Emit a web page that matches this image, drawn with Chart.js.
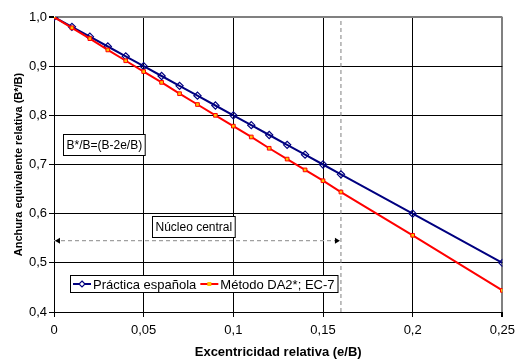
<!DOCTYPE html>
<html>
<head>
<meta charset="utf-8">
<script src="https://cdn.jsdelivr.net/npm/chart.js@4/dist/chart.umd.min.js"></script>
<style>
  html, body { margin: 0; padding: 0; background: #fff; }
  #wrap { width: 521px; height: 360px; }
</style>
</head>
<body>
<div id="wrap"><canvas id="chart" width="521" height="360"></canvas></div>
<script>
// e/B values (x) and the two series of B*/B
const eValues = [0, 0.01, 0.02, 0.03, 0.04, 0.05, 0.06, 0.07, 0.08, 0.09, 0.10, 0.11, 0.12, 0.13, 0.14, 0.15, 0.16, 0.20, 0.25];
const practicaValues = [1.0, 0.98, 0.96, 0.94, 0.92, 0.90, 0.88, 0.86, 0.84, 0.82, 0.80, 0.78, 0.76, 0.74, 0.72, 0.70, 0.68, 0.60, 0.50];
const metodoValues = [1.0, 0.978, 0.956, 0.933, 0.911, 0.889, 0.867, 0.844, 0.822, 0.800, 0.778, 0.756, 0.733, 0.711, 0.689, 0.667, 0.644, 0.556, 0.444];

const seriesNames = ['Práctica española', 'Método DA2*; EC-7'];
const xTicks = [0, 0.05, 0.1, 0.15, 0.2, 0.25];
const yTicks = [0.4, 0.5, 0.6, 0.7, 0.8, 0.9, 1.0];

// central core limit and level of its arrow
const nucleoLimit = 0.16;
const nucleoArrowLevel = 0.545;
const formulaText = 'B*/B=(B-2e/B)';
const nucleoText = 'Núcleo central';

const FONT = "'Liberation Sans', Arial, sans-serif";
const BLUE = '#000080';
const RED = '#ff0000';

const toPoints = (xs, ys) => xs.map((x, i) => ({ x: x, y: ys[i] }));

function commaNum(v, digits) {
  return Number(v.toFixed(digits)).toString().replace('.', ',');
}

const overlayPlugin = {
  id: 'overlay',
  afterDatasetsDraw(chart) {
    const ctx = chart.ctx;
    const xs = chart.scales.x, ys = chart.scales.y;
    const area = chart.chartArea;
    ctx.save();

    // arrowheads of the central core line
    const ay = ys.getPixelForValue(nucleoArrowLevel);
    const ax0 = xs.getPixelForValue(0), ax1 = xs.getPixelForValue(nucleoLimit);
    ctx.fillStyle = '#000';
    ctx.beginPath();
    ctx.moveTo(ax0 + 1, ay); ctx.lineTo(ax0 + 6, ay - 3); ctx.lineTo(ax0 + 6, ay + 3); ctx.closePath();
    ctx.fill();
    ctx.beginPath();
    ctx.moveTo(ax1 - 1, ay); ctx.lineTo(ax1 - 6, ay - 3); ctx.lineTo(ax1 - 6, ay + 3); ctx.closePath();
    ctx.fill();

    // text boxes
    ctx.font = '12px ' + FONT;
    ctx.textBaseline = 'middle';
    function textBox(text, x, y, padX, h) {
      const w = ctx.measureText(text).width + padX * 2;
      ctx.fillStyle = '#fff';
      ctx.fillRect(x, y, w, h);
      ctx.strokeStyle = '#000';
      ctx.lineWidth = 1;
      ctx.strokeRect(x + 0.5, y + 0.5, w, h);
      ctx.fillStyle = '#000';
      ctx.fillText(text, x + padX + 0.5, y + h / 2 + 1);
    }
    textBox(formulaText, area.left + 9, area.top + 117, 3, 21);
    textBox(nucleoText, area.left + 98, area.top + 199, 3, 21);

    // legend box inside the plot
    ctx.font = '13px ' + FONT;
    const lx = area.left + 16, ly = area.bottom - 37, lh = 17;
    const items = [
      { name: seriesNames[0], color: BLUE, marker: 'diamond' },
      { name: seriesNames[1], color: RED, marker: 'square' }
    ];
    let total = 2;
    items.forEach(it => { total += 20 + ctx.measureText(it.name).width + 4; });
    ctx.fillStyle = '#fff';
    ctx.fillRect(lx, ly, total, lh);
    ctx.strokeStyle = '#000';
    ctx.lineWidth = 1;
    ctx.strokeRect(lx + 0.5, ly + 0.5, total, lh);
    let cx = lx + 3;
    const cy = ly + lh / 2 + 0.5;
    items.forEach(it => {
      ctx.strokeStyle = it.color;
      ctx.lineWidth = 2;
      ctx.beginPath(); ctx.moveTo(cx, cy); ctx.lineTo(cx + 18, cy); ctx.stroke();
      const mx = cx + 9;
      if (it.marker === 'diamond') {
        ctx.lineWidth = 1.2;
        ctx.fillStyle = '#fff';
        ctx.beginPath();
        ctx.moveTo(mx, cy - 3); ctx.lineTo(mx + 3, cy); ctx.lineTo(mx, cy + 3); ctx.lineTo(mx - 3, cy); ctx.closePath();
        ctx.fill(); ctx.stroke();
      } else {
        ctx.fillStyle = '#ffc000';
        ctx.fillRect(mx - 2, cy - 2, 4, 4);
      }
      ctx.fillStyle = '#000';
      ctx.fillText(it.name, cx + 20, cy + 1);
      cx += 20 + ctx.measureText(it.name).width + 4;
    });
    ctx.restore();
  }
};

const lastX = xTicks[xTicks.length - 1];
const lastY = yTicks[yTicks.length - 1];

new Chart(document.getElementById('chart'), {
  type: 'scatter',
  data: {
    datasets: [
      {
        label: seriesNames[0],
        data: toPoints(eValues, practicaValues),
        showLine: true,
        borderColor: BLUE,
        borderWidth: 2,
        pointStyle: 'rectRot',
        pointRadius: 3.6,
        pointBorderWidth: 1.2,
        pointBorderColor: BLUE,
        pointBackgroundColor: 'rgba(255,255,255,0)',
        order: 1
      },
      {
        label: seriesNames[1],
        data: toPoints(eValues, metodoValues),
        showLine: true,
        borderColor: RED,
        borderWidth: 2,
        pointStyle: 'rect',
        pointRadius: 2.6,
        pointBorderWidth: 1,
        pointBorderColor: RED,
        pointBackgroundColor: '#ffc000',
        order: 0
      },
      {
        label: 'limite',
        data: [{ x: nucleoLimit, y: yTicks[0] }, { x: nucleoLimit, y: lastY }],
        showLine: true,
        borderColor: '#808080',
        borderWidth: 1,
        borderDash: [4, 3],
        pointRadius: 0,
        order: 2
      },
      {
        label: 'nucleo',
        data: [{ x: 0, y: nucleoArrowLevel }, { x: nucleoLimit, y: nucleoArrowLevel }],
        showLine: true,
        borderColor: '#a0a0a0',
        borderWidth: 1.2,
        borderDash: [4, 3],
        pointRadius: 0,
        order: 2
      }
    ]
  },
  options: {
    responsive: false,
    animation: false,
    events: [],
    layout: { padding: { top: 17, right: 18, left: 0, bottom: 0 } },
    plugins: {
      legend: { display: false },
      tooltip: { enabled: false }
    },
    scales: {
      x: {
        type: 'linear',
        min: xTicks[0],
        max: lastX,
        afterFit(scale) { scale.height = 48; },
        afterBuildTicks(scale) { scale.ticks = xTicks.map(v => ({ value: v })); },
        ticks: {
          color: '#000',
          font: { family: FONT, size: 13 },
          padding: 6,
          maxRotation: 0,
          callback: v => commaNum(v, 2)
        },
        grid: {
          color: ctx => (ctx.tick && Math.abs(ctx.tick.value - lastX) < 1e-9) ? '#808080' : '#000',
          lineWidth: ctx => (ctx.tick && Math.abs(ctx.tick.value - lastX) < 1e-9) ? 2 : 1,
          tickColor: '#000',
          tickLength: 5
        },
        border: { color: '#000', width: 1 },
        title: {
          display: true,
          text: 'Excentricidad relativa (e/B)',
          color: '#000',
          font: { family: FONT, size: 13, weight: 'bold' },
          padding: { top: 0, bottom: 0 }
        }
      },
      y: {
        type: 'linear',
        min: yTicks[0],
        max: lastY,
        afterFit(scale) { scale.width = 54; },
        afterBuildTicks(scale) { scale.ticks = yTicks.map(v => ({ value: v })); },
        ticks: {
          color: '#000',
          font: { family: FONT, size: 13 },
          padding: 2,
          callback: v => v.toFixed(1).replace('.', ',')
        },
        grid: {
          color: ctx => (ctx.tick && Math.abs(ctx.tick.value - lastY) < 1e-9) ? '#808080' : '#000',
          lineWidth: ctx => (ctx.tick && Math.abs(ctx.tick.value - lastY) < 1e-9) ? 2 : 1,
          tickColor: '#000',
          tickLength: 5
        },
        border: { color: '#000', width: 1 },
        title: {
          display: true,
          text: 'Anchura equivalente relativa (B*/B)',
          color: '#000',
          font: { family: FONT, size: 11, weight: 'bold' },
          padding: { top: 12, bottom: 0 }
        }
      }
    }
  },
  plugins: [overlayPlugin]
});
</script>
</body>
</html>
